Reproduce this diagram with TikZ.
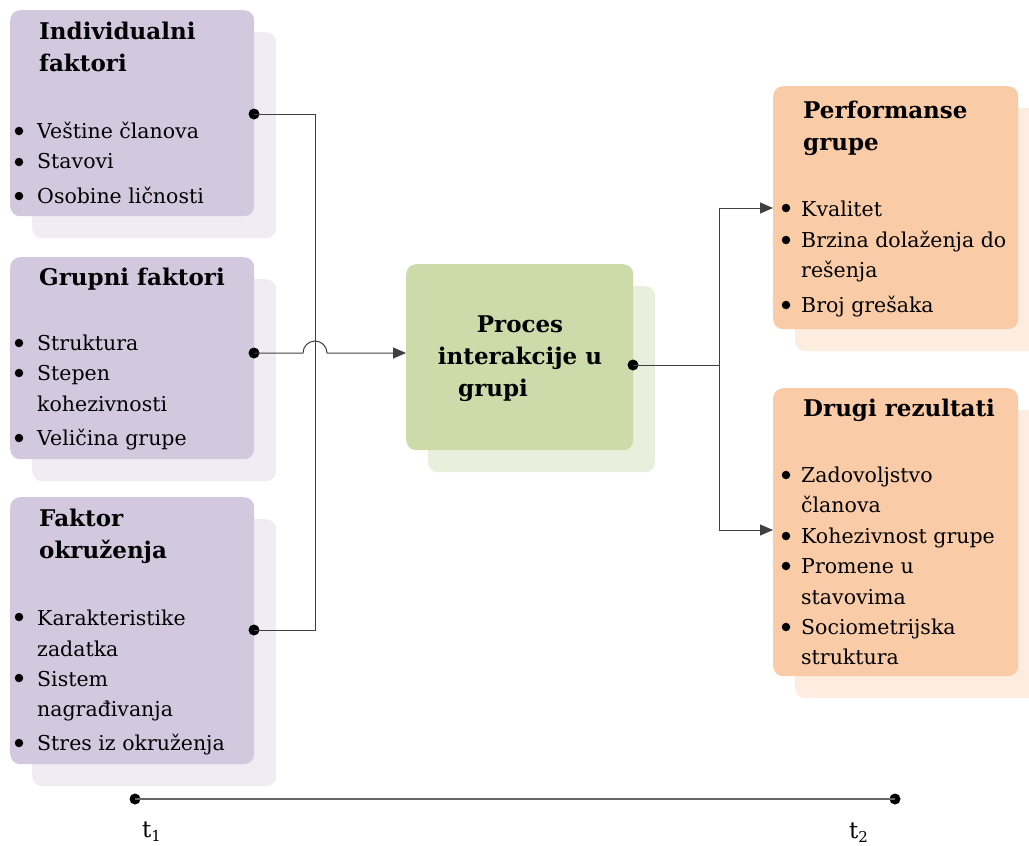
\documentclass[tikz,border=0pt]{standalone}
\usepackage{fontspec}
\setmainfont{DejaVu Serif}
\usetikzlibrary{arrows.meta}
\definecolor{lilac}{RGB}{211,201,223}
\definecolor{lilacS}{RGB}{239,236,243}
\definecolor{sage}{RGB}{204,219,169}
\definecolor{sageS}{RGB}{233,239,220}
\definecolor{peach}{RGB}{249,203,167}
\definecolor{peachS}{RGB}{253,236,224}
\tikzset{
  card/.style={rounded corners=10pt, inner sep=0, anchor=north west},
  ttl/.style={anchor=base west, inner sep=0, font=\fontsize{23}{23}\selectfont\bfseries},
  itm/.style={anchor=base west, inner sep=0, font=\fontsize{20.5}{20.5}\selectfont},
  bul/.style={circle, fill=black, inner sep=0, minimum size=8.5pt},
  dot/.style={circle, fill=black, inner sep=0, minimum size=11pt},
  wire/.style={draw=black!75, line width=1pt},
  tip/.style={-{Triangle[length=13pt,width=11pt]}},
}
\begin{document}
\begin{tikzpicture}[x=1pt,y=-1pt]
\useasboundingbox (0,0) rectangle (1029,846);
\clip (0,0) rectangle (1029,846);

% cards with their offset shadows
\node[card, fill=lilacS, minimum width=244pt, minimum height=206pt] (s1) at (32,32) {};
\node[card, fill=lilac,  minimum width=244pt, minimum height=206pt] (ind) at (10,10) {};
\node[card, fill=lilacS, minimum width=244pt, minimum height=202pt] (s2) at (32,279) {};
\node[card, fill=lilac,  minimum width=244pt, minimum height=202pt] (grp) at (10,257) {};
\node[card, fill=lilacS, minimum width=244pt, minimum height=267pt] (s3) at (32,519) {};
\node[card, fill=lilac,  minimum width=244pt, minimum height=267pt] (env) at (10,497) {};
\node[card, fill=sageS,  minimum width=227pt, minimum height=186pt] (s4) at (428,286) {};
\node[card, fill=sage,   minimum width=227pt, minimum height=186pt] (proc) at (406,264) {};
\node[card, fill=peachS, minimum width=245pt, minimum height=243pt] (s5) at (795,108) {};
\node[card, fill=peach,  minimum width=245pt, minimum height=243pt] (perf) at (773,86) {};
\node[card, fill=peachS, minimum width=245pt, minimum height=288pt] (s6) at (795,410) {};
\node[card, fill=peach,  minimum width=245pt, minimum height=288pt] (oth) at (773,388) {};

% Individualni faktori
\node[ttl] (t1a) at (39,39) {Individualni};
\node[ttl] (t1b) at (39,71) {faktori};
\node[bul] (b11) at (19,131) {}; \node[itm] (i11) at (37,138) {Veštine članova};
\node[bul] (b12) at (19,162) {}; \node[itm] (i12) at (37,168) {Stavovi};
\node[bul] (b13) at (19,196) {}; \node[itm] (i13) at (37,203) {Osobine ličnosti};

% Grupni faktori
\node[ttl] (t2a) at (39,285) {Grupni faktori};
\node[bul] (b21) at (19,343) {}; \node[itm] (i21) at (37,350) {Struktura};
\node[bul] (b22) at (19,373) {}; \node[itm] (i22) at (37,380) {Stepen};
\node[itm] (i22b) at (37,411) {kohezivnosti};
\node[bul] (b23) at (19,438) {}; \node[itm] (i23) at (37,445) {Veličina grupe};

% Faktor okruženja
\node[ttl] (t3a) at (39,526) {Faktor};
\node[ttl] (t3b) at (39,558) {okruženja};
\node[bul] (b31) at (19,617) {}; \node[itm] (i31) at (37,625) {Karakteristike};
\node[itm] (i31b) at (37,656) {zadatka};
\node[bul] (b32) at (19,678) {}; \node[itm] (i32) at (37,686) {Sistem};
\node[itm] (i32b) at (37,716) {nagrađivanja};
\node[bul] (b33) at (19,743) {}; \node[itm] (i33) at (37,750) {Stres iz okruženja};

% Proces interakcije u grupi
\node[ttl, anchor=base] (t4a) at (520,332) {Proces};
\node[ttl, anchor=base] (t4b) at (520,364) {interakcije u};
\node[ttl] (t4c) at (458,396) {grupi};

% Performanse grupe
\node[ttl] (t5a) at (803,118) {Performanse};
\node[ttl] (t5b) at (803,150) {grupe};
\node[bul] (b51) at (786,208) {}; \node[itm] (i51) at (801,216) {Kvalitet};
\node[bul] (b52) at (786,240) {}; \node[itm] (i52) at (801,247) {Brzina dolaženja do};
\node[itm] (i52b) at (801,277) {rešenja};
\node[bul] (b53) at (786,305) {}; \node[itm] (i53) at (801,312) {Broj grešaka};

% Drugi rezultati
\node[ttl] (t6a) at (803,416) {Drugi rezultati};
\node[bul] (b61) at (786,475) {}; \node[itm] (i61) at (801,482) {Zadovoljstvo};
\node[itm] (i61b) at (801,512) {članova};
\node[bul] (b62) at (786,536) {}; \node[itm] (i62) at (801,543) {Kohezivnost grupe};
\node[bul] (b63) at (786,566) {}; \node[itm] (i63) at (801,573) {Promene u};
\node[itm] (i63b) at (801,604) {stavovima};
\node[bul] (b64) at (786,627) {}; \node[itm] (i64) at (801,634) {Sociometrijska};
\node[itm] (i64b) at (801,664) {struktura};

% connector end points
\node[dot] (d1) at (254,114) {};
\node[dot] (d2) at (254,353) {};
\node[dot] (d3) at (254,630) {};
\node[dot] (d4) at (633,365) {};
\coordinate (j1) at (315,114);
\coordinate (j3) at (315,630);
\coordinate (hop) at (303,353);
\coordinate (k0) at (719,365);
\coordinate (k1) at (719,208);
\coordinate (k2) at (719,530);
\coordinate (a1) at (773,208);
\coordinate (a2) at (773,530);
\coordinate (a0) at (406,353);

% inputs collect on a bus; the middle line hops over it
\draw[wire] (d1.center) -- (j1) -- (j3) -- (d3.center);
\draw[wire, tip] (d2.center) -- (hop) arc[start angle=180, end angle=0, radius=12pt] -- (a0);
% outputs branch to the two result cards
\draw[wire] (d4.center) -- (k0);
\draw[wire, tip] (k0) -- (k1) -- (a1);
\draw[wire, tip] (k0) -- (k2) -- (a2);

% time axis
\node[dot] (ta) at (135,799) {};
\node[dot] (tb) at (895,799) {};
\draw[draw=black!60, line width=1.5pt] (ta.center) -- (tb.center);
\node[anchor=base west, inner sep=0, font=\fontsize{23}{23}\selectfont] (l1) at (142,837) {t\raisebox{-4pt}{\fontsize{15}{15}\selectfont 1}};
\node[anchor=base west, inner sep=0, font=\fontsize{23}{23}\selectfont] (l2) at (849,838) {t\raisebox{-4pt}{\fontsize{15}{15}\selectfont 2}};
\end{tikzpicture}
\end{document}
